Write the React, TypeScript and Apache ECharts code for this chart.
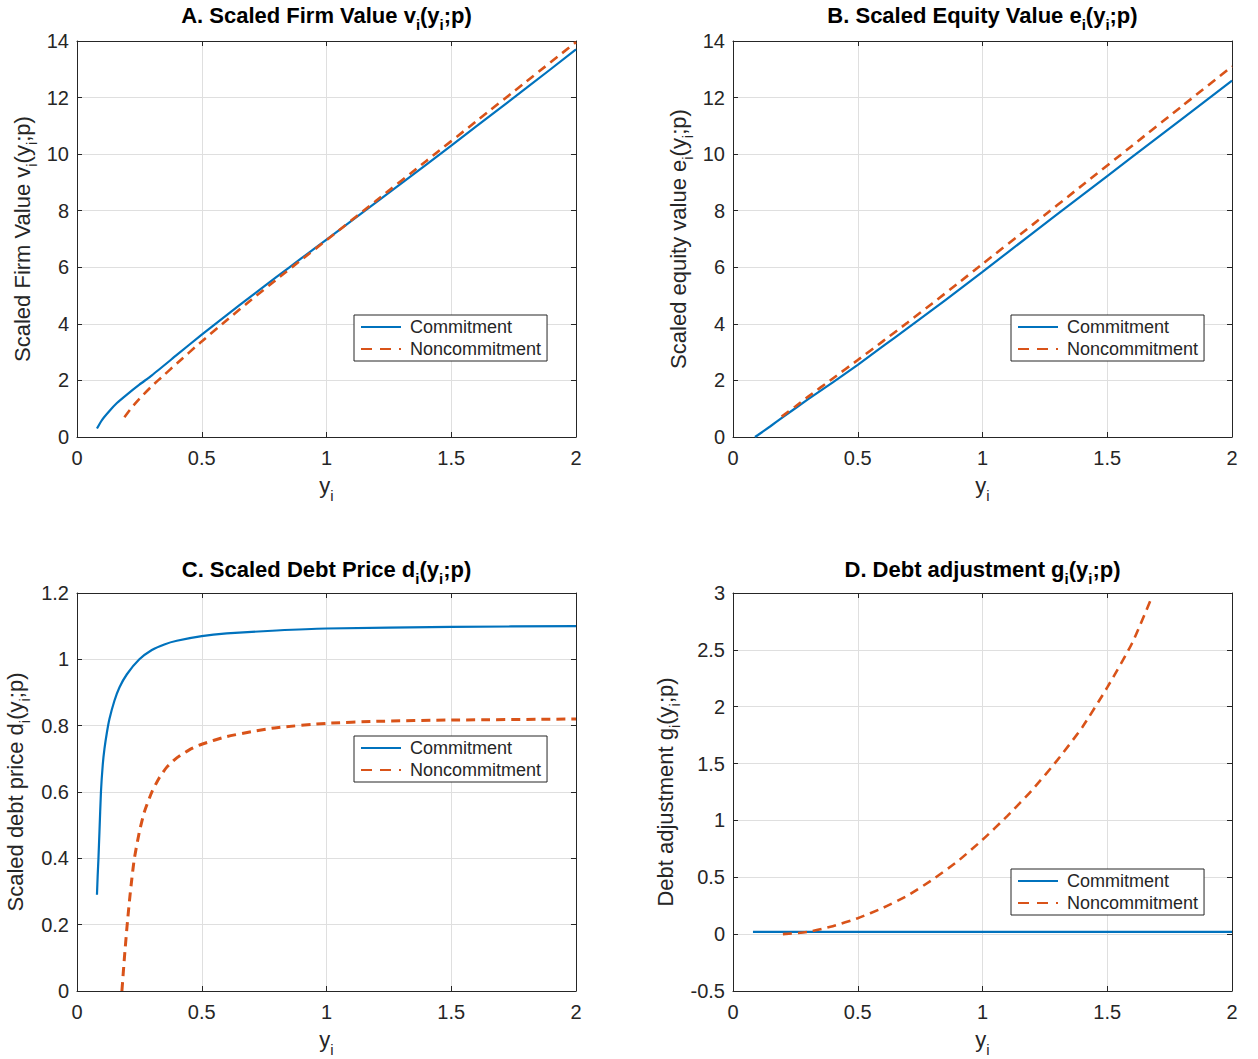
import React, { useEffect, useRef } from "react";
import * as echarts from "echarts";

const FONT = '"Liberation Sans", Helvetica, Arial, sans-serif';
const BLUE = "#0072BD";
const RED = "#D95319";
const INK = "#262626";

// Panel A: scaled firm value
const firmCommitX = [0.08, 0.1, 0.13, 0.16, 0.2, 0.25, 0.3, 0.4, 0.5, 0.6, 0.7, 0.8, 0.9, 1.0, 1.2, 1.4, 1.6, 1.8, 2.0];
const firmCommitY = [0.3, 0.6, 0.92, 1.2, 1.5, 1.85, 2.18, 2.9, 3.62, 4.31, 4.99, 5.66, 6.32, 6.98, 8.3, 9.63, 10.98, 12.33, 13.7];
const firmNoncommitX = [0.19, 0.22, 0.25, 0.3, 0.35, 0.4, 0.5, 0.6, 0.7, 0.8, 0.9, 1.0, 1.2, 1.4, 1.6, 1.8, 2.0];
const firmNoncommitY = [0.7, 1.05, 1.35, 1.8, 2.2, 2.6, 3.38, 4.13, 4.86, 5.57, 6.27, 6.96, 8.36, 9.76, 11.16, 12.56, 13.96];

// Panel B: scaled equity value
const equityCommitX = [0.088, 0.1, 0.15, 0.2, 0.3, 0.4, 0.5, 0.6, 0.7, 0.8, 0.9, 1.0, 1.2, 1.4, 1.6, 1.8, 2.0];
const equityCommitY = [0, 0.07, 0.38, 0.7, 1.33, 1.93, 2.55, 3.2, 3.85, 4.5, 5.17, 5.84, 7.2, 8.55, 9.9, 11.25, 12.6];
const equityNoncommitX = [0.195, 0.25, 0.3, 0.4, 0.5, 0.6, 0.7, 0.8, 0.9, 1.0, 1.2, 1.4, 1.6, 1.8, 2.0];
const equityNoncommitY = [0.72, 1.08, 1.42, 2.07, 2.72, 3.38, 4.05, 4.73, 5.42, 6.12, 7.5, 8.9, 10.3, 11.7, 13.1];

// Panel C: scaled debt price
const debtCommitX = [0.08, 0.083, 0.086, 0.09, 0.096, 0.103, 0.11, 0.12, 0.13, 0.15, 0.17, 0.2, 0.25, 0.3, 0.35, 0.4, 0.5, 0.6, 0.8, 1.0, 1.5, 2.0];
const debtCommitY = [0.29, 0.35, 0.4, 0.48, 0.6, 0.68, 0.73, 0.78, 0.82, 0.875, 0.915, 0.955, 1.0, 1.028, 1.045, 1.056, 1.07, 1.078, 1.087, 1.093, 1.098, 1.1];
const debtNoncommitX = [0.18, 0.19, 0.2, 0.21, 0.22, 0.23, 0.25, 0.27, 0.3, 0.33, 0.36, 0.4, 0.45, 0.5, 0.6, 0.7, 0.8, 1.0, 1.2, 1.5, 2.0];
const debtNoncommitY = [0, 0.1, 0.19, 0.27, 0.34, 0.4, 0.48, 0.54, 0.6, 0.643, 0.675, 0.703, 0.727, 0.744, 0.767, 0.782, 0.794, 0.807, 0.813, 0.817, 0.82];

// Panel D: debt adjustment
const adjCommitX = [0.08, 0.5, 1.0, 1.5, 2.0];
const adjCommitY = [0.02, 0.02, 0.02, 0.02, 0.02];
const adjNoncommitX = [0.2, 0.3, 0.4, 0.5, 0.6, 0.7, 0.8, 0.9, 1.0, 1.1, 1.2, 1.3, 1.4, 1.5, 1.6, 1.68];
const adjNoncommitY = [0, 0.02, 0.07, 0.14, 0.23, 0.34, 0.48, 0.64, 0.83, 1.04, 1.27, 1.53, 1.82, 2.17, 2.56, 2.97];

const titles = [
  "A. Scaled Firm Value v{s|i}(y{s|i};p)",
  "B. Scaled Equity Value e{s|i}(y{s|i};p)",
  "C. Scaled Debt Price d{s|i}(y{s|i};p)",
  "D. Debt adjustment g{s|i}(y{s|i};p)",
];
const yNames = [
  "Scaled Firm Value v{s|i}(y{s|i};p)",
  "Scaled equity value e{s|i}(y{s|i};p)",
  "Scaled debt price d{s|i}(y{s|i};p)",
  "Debt adjustment g{s|i}(y{s|i};p)",
];
const xName = "y{s|i}";
const legendNames = ["Commitment", "Noncommitment"];

const yMin = [0, 0, 0, -0.5];
const yMax = [14, 14, 1.2, 3];
const yStep = [2, 2, 0.2, 0.5];
const xMin = 0;
const xMax = 2;
const xStep = 0.5;

const grids = [
  { left: 77, top: 41, width: 499, height: 396 },
  { left: 733, top: 41, width: 499, height: 396 },
  { left: 77, top: 593, width: 499, height: 398 },
  { left: 733, top: 593, width: 499, height: 398 },
];
const titleTop = [-2, -2, 552, 552];
const yNameGap = [38, 38, 45, 51];
const xNameGap = [31, 31, 30, 30];
const legendPos = [
  { left: 354, top: 315 },
  { left: 1011, top: 315 },
  { left: 354, top: 736 },
  { left: 1011, top: 869 },
];

const zip = (xs: number[], ys: number[]) => xs.map((x, i) => [x, ys[i]]);

const subRich = (size: number, bold: boolean) => ({
  s: {
    fontSize: size,
    fontFamily: FONT,
    fontWeight: bold ? "bold" : "normal",
    verticalAlign: "bottom",
    lineHeight: size,
  },
});

const nameStyle = {
  fontSize: 22,
  fontFamily: FONT,
  color: INK,
  lineHeight: 34,
  rich: subRich(15, false),
};

function buildOption() {
  const xAxes: any[] = [];
  const yAxes: any[] = [];
  grids.forEach((_, i) => {
    xAxes.push({
      type: "value",
      gridIndex: i,
      min: xMin,
      max: xMax,
      interval: xStep,
      position: "bottom",
      name: xName,
      nameLocation: "middle",
      nameGap: xNameGap[i],
      nameTextStyle: nameStyle,
      axisLine: { show: true, onZero: false, lineStyle: { color: INK, width: 1 } },
      axisTick: { show: true, inside: true, length: 5, lineStyle: { color: INK } },
      axisLabel: { fontSize: 20, fontFamily: FONT, color: INK, margin: 11 },
      splitLine: { show: true, lineStyle: { color: "#dfdfdf", width: 1 } },
    });
    yAxes.push({
      type: "value",
      gridIndex: i,
      min: yMin[i],
      max: yMax[i],
      interval: yStep[i],
      position: "left",
      name: yNames[i],
      nameLocation: "middle",
      nameGap: yNameGap[i],
      nameTextStyle: nameStyle,
      axisLine: { show: true, onZero: false, lineStyle: { color: INK, width: 1 } },
      axisTick: { show: true, inside: true, length: 5, lineStyle: { color: INK } },
      axisLabel: { fontSize: 20, fontFamily: FONT, color: INK, margin: 8 },
      splitLine: { show: true, lineStyle: { color: "#dfdfdf", width: 1 } },
    });
  });
  grids.forEach((_, i) => {
    xAxes.push({
      type: "value",
      gridIndex: i,
      min: xMin,
      max: xMax,
      interval: xStep,
      position: "top",
      axisLine: { show: true, onZero: false, lineStyle: { color: INK, width: 1 } },
      axisTick: { show: true, inside: true, length: 5, lineStyle: { color: INK } },
      axisLabel: { show: false },
      splitLine: { show: false },
    });
    yAxes.push({
      type: "value",
      gridIndex: i,
      min: yMin[i],
      max: yMax[i],
      interval: yStep[i],
      position: "right",
      axisLine: { show: true, onZero: false, lineStyle: { color: INK, width: 1 } },
      axisTick: { show: true, inside: true, length: 5, lineStyle: { color: INK } },
      axisLabel: { show: false },
      splitLine: { show: false },
    });
  });

  const panelData = [
    [zip(firmCommitX, firmCommitY), zip(firmNoncommitX, firmNoncommitY)],
    [zip(equityCommitX, equityCommitY), zip(equityNoncommitX, equityNoncommitY)],
    [zip(debtCommitX, debtCommitY), zip(debtNoncommitX, debtNoncommitY)],
    [zip(adjCommitX, adjCommitY), zip(adjNoncommitX, adjNoncommitY)],
  ];

  const series: any[] = [];
  panelData.forEach((pair, i) => {
    series.push({
      type: "line",
      name: legendNames[0],
      xAxisIndex: i,
      yAxisIndex: i,
      data: pair[0],
      showSymbol: false,
      symbol: "none",
      smooth: 0.2,
      lineStyle: { color: BLUE, width: 2.2 },
      itemStyle: { color: BLUE },
      z: 3,
    });
    series.push({
      type: "line",
      name: legendNames[1],
      xAxisIndex: i,
      yAxisIndex: i,
      data: pair[1],
      showSymbol: false,
      symbol: "none",
      smooth: 0.2,
      lineStyle: { color: RED, width: i === 2 ? 3 : 2.6, type: [9, 6] },
      itemStyle: { color: RED },
      z: 4,
    });
  });

  const title = titles.map((t, i) => ({
    text: t,
    left: grids[i].left + grids[i].width / 2,
    top: titleTop[i],
    padding: 0,
    textAlign: "center",
    textStyle: {
      fontSize: 22,
      fontWeight: "bold",
      fontFamily: FONT,
      color: "#000",
      lineHeight: 34,
      rich: subRich(15, true),
    },
  }));

  const legend = legendPos.map((p) => ({
    left: p.left,
    top: p.top,
    orient: "vertical",
    data: [
      { name: legendNames[0] },
      { name: legendNames[1], lineStyle: { type: [11, 8] } },
    ],
    selectedMode: false,
    itemWidth: 40,
    itemHeight: 12,
    itemGap: 4,
    padding: [3, 6, 3, 6],
    borderColor: INK,
    borderWidth: 1,
    borderRadius: 0,
    backgroundColor: "#ffffff",
    itemStyle: { opacity: 0 },
    textStyle: { fontSize: 18, fontFamily: FONT, color: INK, padding: [0, 4, 0, 4] },
  }));

  return {
    animation: false,
    backgroundColor: "#ffffff",
    title,
    legend,
    grid: grids.map((g) => ({ ...g, containLabel: false, outerBoundsMode: "none" })),
    xAxis: xAxes,
    yAxis: yAxes,
    series,
  };
}

export default function App() {
  const ref = useRef<HTMLDivElement>(null);
  useEffect(() => {
    document.body.style.margin = "0";
    if (!ref.current) return;
    const chart = echarts.init(ref.current, undefined, { renderer: "svg" });
    chart.setOption(buildOption() as any);
    return () => chart.dispose();
  }, []);
  return <div ref={ref} style={{ width: 1258, height: 1059 }} />;
}
